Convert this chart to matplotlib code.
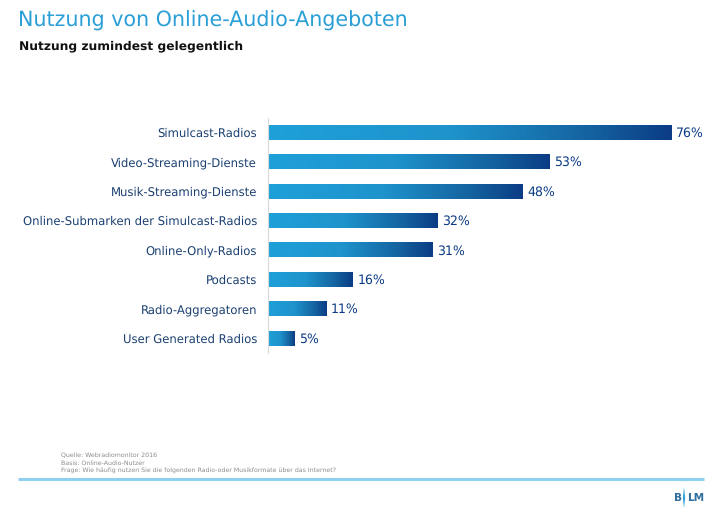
import numpy as np
import matplotlib
matplotlib.use("Agg")
import matplotlib.pyplot as plt
from matplotlib.colors import LinearSegmentedColormap

categories = [
    "Simulcast-Radios",
    "Video-Streaming-Dienste",
    "Musik-Streaming-Dienste",
    "Online-Submarken der Simulcast-Radios",
    "Online-Only-Radios",
    "Podcasts",
    "Radio-Aggregatoren",
    "User Generated Radios",
]
values = [76, 53, 48, 32, 31, 16, 11, 5]
notes = [
    "Quelle: Webradiomonitor 2016",
    "Basis: Online-Audio-Nutzer",
    "Frage: Wie häufig nutzen Sie die folgenden Radio-oder Musikformate über das Internet?",
]

W, H = 710, 509
DARK = "#0b3c85"
LIGHT = "#1fa0d8"

plt.rcParams["font.family"] = "DejaVu Sans"
plt.rcParams["text.hinting"] = "no_hinting"
fig = plt.figure(figsize=(W / 100, H / 100), dpi=100)

# plot area in pixels: zero line at x=268, 5.31 px per percent
ax = fig.add_axes([268 / W, 1 - 353 / H, (W - 268) / W, (353 - 118) / H])
ax.set_yticks(range(len(categories)))
ax.set_yticklabels(categories, fontsize=8.35, color="#1a3f70")
ax.tick_params(axis="y", length=0, pad=8)
ax.set_xticks([])
for side in ["top", "right", "bottom"]:
    ax.spines[side].set_visible(False)
ax.spines["left"].set_color("#d9d9d9")
ax.spines["left"].set_linewidth(0.8)

cmap = LinearSegmentedColormap.from_list(
    "bar", [(0, LIGHT), (0.45, "#1e93cc"), (0.8, "#14629f"), (1, DARK)])
grad = np.linspace(0, 1, 256).reshape(1, -1)
bar_h = 15 / 29.4
for i, (cat, val) in enumerate(zip(categories, values)):
    ax.imshow(grad, cmap=cmap, aspect="auto", interpolation="bilinear",
              extent=(0, val, i + bar_h / 2, i - bar_h / 2), zorder=2)
    ax.text(val + 0.8, i + 0.03, f"{val}%", va="center", ha="left",
            fontsize=9, color=DARK)
ax.set_xlim(0, (W - 268) / 5.31)
ax.set_ylim(7 + (353 - 338) / 29.4, 0 - (132.5 - 118) / 29.4)

# header
fig.text(18 / W, 1 - 21 / H, "Nutzung von Online-Audio-Angeboten", fontsize=14.9,
         color="#2a9fd6", va="center", ha="left")
fig.text(19 / W, 1 - 46 / H, "Nutzung zumindest gelegentlich", fontsize=8.8,
         color="#111111", fontweight="bold", va="center", ha="left")

# footnotes
for y, line in zip([455.5, 463, 470], notes):
    fig.text(61 / W, 1 - y / H, line, fontsize=4.5, color="#8c8c8c", va="center", ha="left")

# footer rule
fig.add_artist(plt.Line2D([18 / W, 704 / W], [1 - 479 / H, 1 - 479 / H],
                          color="#8fd0ee", linewidth=2.2, solid_capstyle="butt"))

# logo
fig.text(677.5 / W, 1 - 498 / H, "B", fontsize=7.6, fontweight="bold", color="#2f6f9f", va="center", ha="center")
fig.text(696 / W, 1 - 498 / H, "LM", fontsize=7.6, fontweight="bold", color="#2f6f9f", va="center", ha="center")
fig.add_artist(plt.Polygon([(684 / W, 1 - 487 / H), (685.2 / W, 1 - 498 / H),
                            (684 / W, 1 - 508 / H), (682.8 / W, 1 - 498 / H)],
                           closed=True, facecolor="#2fa3da", edgecolor="none"))

fig.savefig("out.png", dpi=100)
